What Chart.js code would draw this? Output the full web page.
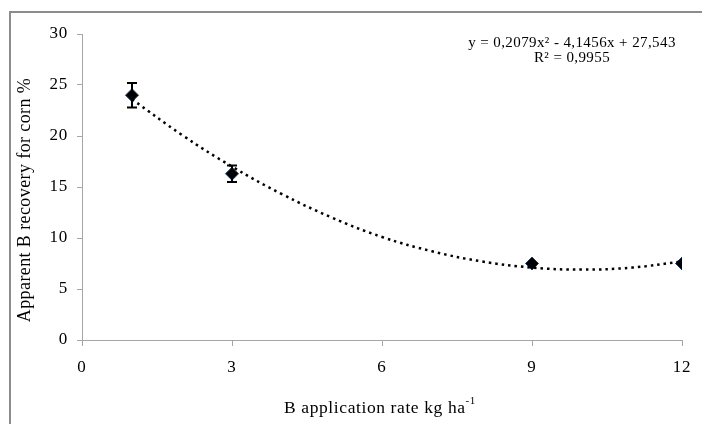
<!DOCTYPE html>
<html>
<head>
<meta charset="utf-8">
<script src="https://cdn.jsdelivr.net/npm/chart.js@4"></script>
<style>
  html, body { margin: 0; padding: 0; background: #fff; }
  #wrap { width: 702px; height: 424px; position: relative; }
</style>
</head>
<body>
<div id="wrap"><canvas id="chart" width="702" height="424"></canvas></div>
<script>
// measured points (B rate, recovery %) with error bars
const rates = [1, 3, 9, 12];
const recovery = [24.0, 16.3, 7.5, 7.5];
const errors = [1.2, 0.8, 0.2, 0.15];

// dotted trend curve
const trendX = [1, 2, 3, 4, 5, 6, 7, 8, 9, 10, 11, 12];
const trendY = [23.6, 20.1, 17.0, 14.3, 12.0, 10.1, 8.7, 7.7, 7.1, 6.9, 7.1, 7.7];

const xTicks = [0, 3, 6, 9, 12];
const yTicks = [0, 5, 10, 15, 20, 25, 30];

const equationText = 'y = 0,2079x² - 4,1456x + 27,543';
const r2Text = 'R² = 0,9955';
const xTitle = 'B application rate kg ha';
const xTitleSup = '-1';
const yTitle = 'Apparent B recovery for corn %';

const serif = '"Liberation Serif", "Times New Roman", serif';
const axisGrey = '#a6a6a6';

// frame, error bars and titles drawn on the canvas
const extras = {
    id: 'extras',
    beforeDraw(chart) {
        const ctx = chart.ctx;
        ctx.save();
        ctx.strokeStyle = '#8c8c8c';
        ctx.lineWidth = 2;
        ctx.beginPath();
        ctx.moveTo(10, 424);
        ctx.lineTo(10, 12);
        ctx.lineTo(702, 12);
        ctx.stroke();
        ctx.restore();
        // slightly wider spacing for the tick labels
        ctx.letterSpacing = '0.8px';
    },
    afterDatasetsDraw(chart) {
        const ctx = chart.ctx;
        const xs = chart.scales.x;
        const ys = chart.scales.y;
        ctx.save();
        ctx.strokeStyle = '#000';
        ctx.lineWidth = 2;
        rates.forEach((r, i) => {
            if (errors[i] < 0.5) return;
            const px = xs.getPixelForValue(r);
            const top = ys.getPixelForValue(recovery[i] + errors[i]);
            const bot = ys.getPixelForValue(recovery[i] - errors[i]);
            ctx.beginPath();
            ctx.moveTo(px, top);
            ctx.lineTo(px, bot);
            ctx.moveTo(px - 5, top);
            ctx.lineTo(px + 5, top);
            ctx.moveTo(px - 5, bot);
            ctx.lineTo(px + 5, bot);
            ctx.stroke();
        });

        // equation
        ctx.fillStyle = '#000';
        ctx.textAlign = 'center';
        ctx.textBaseline = 'middle';
        ctx.font = '15px ' + serif;
        ctx.letterSpacing = '0.4px';
        ctx.fillText(equationText, 572, 43);
        ctx.fillText(r2Text, 572, 58);

        // x title with superscript
        ctx.letterSpacing = '0.6px';
        ctx.font = '17.5px ' + serif;
        const w1 = ctx.measureText(xTitle).width;
        ctx.font = '11px ' + serif;
        const w2 = ctx.measureText(xTitleSup).width;
        const startX = 380 - (w1 + w2) / 2;
        ctx.textAlign = 'left';
        ctx.font = '17.5px ' + serif;
        ctx.fillText(xTitle, startX, 408);
        ctx.font = '11px ' + serif;
        ctx.fillText(xTitleSup, startX + w1, 401);

        // y title
        ctx.letterSpacing = '0.4px';
        ctx.font = '18px ' + serif;
        ctx.textAlign = 'center';
        ctx.translate(25, 200);
        ctx.rotate(-Math.PI / 2);
        ctx.fillText(yTitle, 0, 0);
        ctx.restore();
    }
};

new Chart(document.getElementById('chart'), {
    type: 'scatter',
    data: {
        datasets: [
            {
                label: 'trend',
                type: 'line',
                data: trendX.map((x, i) => ({ x: x, y: trendY[i] })),
                borderColor: '#000',
                borderWidth: 2.5,
                borderDash: [2.5, 4],
                pointRadius: 0,
                tension: 0.4,
                fill: false
            },
            {
                label: 'measured',
                data: rates.map((x, i) => ({ x: x, y: recovery[i] })),
                pointStyle: 'rectRot',
                pointRadius: 6.5,
                backgroundColor: '#000',
                borderColor: '#1f3b63',
                borderWidth: 1
            }
        ]
    },
    options: {
        responsive: false,
        animation: false,
        layout: { padding: { left: 0, top: 34, right: 20, bottom: 0 } },
        plugins: {
            legend: { display: false },
            tooltip: { enabled: false }
        },
        scales: {
            x: {
                type: 'linear',
                min: 0,
                max: 12,
                afterBuildTicks: (axis) => { axis.ticks = xTicks.map(v => ({ value: v })); },
                afterFit: (axis) => { axis.height = 84; },
                grid: { drawOnChartArea: false, drawTicks: true, tickLength: 6, color: axisGrey },
                border: { color: axisGrey, width: 1 },
                ticks: { color: '#000', font: { family: serif, size: 17 }, padding: 11, maxRotation: 0 }
            },
            y: {
                min: 0,
                max: 30,
                afterBuildTicks: (axis) => { axis.ticks = yTicks.map(v => ({ value: v })); },
                afterFit: (axis) => { axis.width = 82; },
                grid: { drawOnChartArea: false, drawTicks: true, tickLength: 5, color: axisGrey },
                border: { color: axisGrey, width: 1 },
                ticks: { color: '#000', font: { family: serif, size: 17 }, padding: 9 }
            }
        }
    },
    plugins: [extras]
});
</script>
</body>
</html>
